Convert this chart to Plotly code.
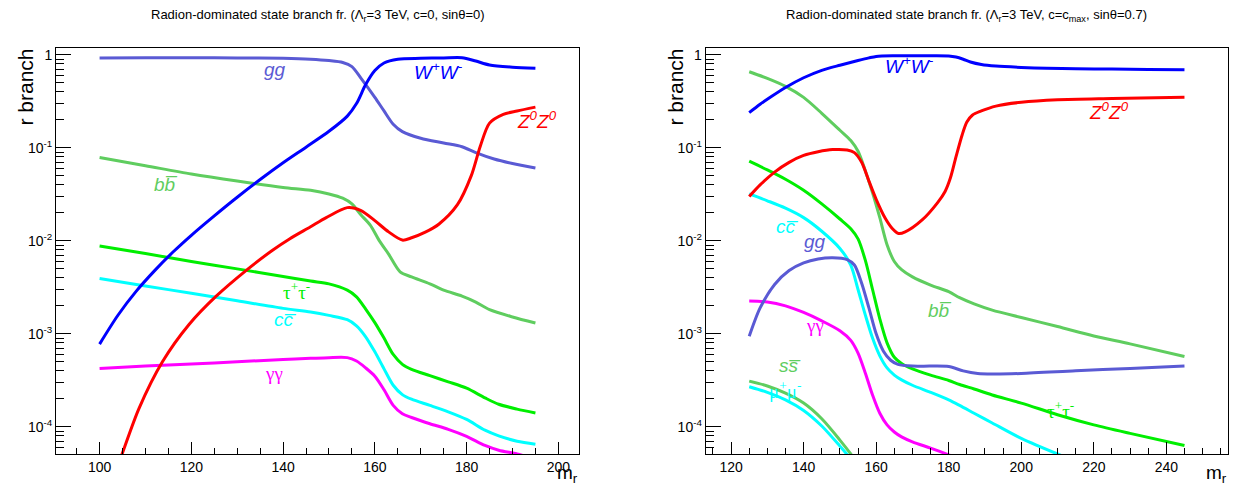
import math
import plotly.graph_objects as go

# ---------------- left panel: c=0, sin(theta)=0 ----------------
L_gg_m = [100, 110, 120, 130, 140, 146, 150, 153, 155, 157, 160, 162, 164, 166, 170, 175, 179, 182, 186, 190, 195]
L_gg = [0.93, 0.935, 0.935, 0.93, 0.92, 0.90, 0.87, 0.83, 0.75, 0.56, 0.35, 0.25, 0.18, 0.15, 0.127, 0.113, 0.103, 0.089, 0.076, 0.068, 0.061]

L_ww_m = [100, 104, 108, 112, 116, 120, 125, 130, 135, 140, 145, 150, 154, 156, 158, 160, 162, 165, 170, 175, 179, 182, 185, 190, 195]
L_ww = [7.76e-4, 1.585e-3, 2.88e-3, 4.79e-3, 7.59e-3, 0.0115, 0.0186, 0.0295, 0.0457, 0.0692, 0.102, 0.151, 0.22, 0.30, 0.48, 0.68, 0.82, 0.90, 0.92, 0.93, 0.935, 0.86, 0.78, 0.74, 0.72]

L_zz_m = [104, 105, 108.6, 113.7, 119.5, 125.3, 131.9, 137.7, 141.4, 145.9, 149.4, 154, 157, 160, 163, 166, 168, 171, 174, 178, 181, 183, 185, 188, 191, 195]
L_zz = [3.8e-5, 5.25e-5, 1.58e-4, 5.0e-4, 1.26e-3, 2.51e-3, 4.79e-3, 7.94e-3, 0.0105, 0.0141, 0.0178, 0.0228, 0.0212, 0.0165, 0.0125, 0.0102, 0.0108, 0.0124, 0.0152, 0.0245, 0.05, 0.105, 0.185, 0.23, 0.25, 0.275]

L_bb_m = [100, 110, 120, 130, 140, 146, 150, 153, 155, 157, 159, 161, 163, 165.5, 168, 172, 175, 179, 182, 185, 190, 195]
L_bb = [0.079, 0.0644, 0.0524, 0.044, 0.0376, 0.035, 0.032, 0.0288, 0.025, 0.019, 0.0148, 0.0100, 0.0072, 4.65e-3, 4.1e-3, 3.45e-3, 2.95e-3, 2.55e-3, 2.2e-3, 1.82e-3, 1.52e-3, 1.31e-3]

L_fm_m = [100, 110, 120, 130, 140, 146, 150, 154, 156, 158, 160, 162, 164, 166, 168, 172, 176, 180, 184, 187, 191, 195]
L_tautau = [8.8e-3, 7.3e-3, 6.0e-3, 5.0e-3, 4.15e-3, 3.7e-3, 3.45e-3, 2.95e-3, 2.5e-3, 1.85e-3, 1.32e-3, 9.0e-4, 6.0e-4, 4.7e-4, 4.15e-4, 3.55e-4, 3.05e-4, 2.6e-4, 2.05e-4, 1.75e-4, 1.55e-4, 1.41e-4]
L_cc = [3.95e-3, 3.28e-3, 2.73e-3, 2.27e-3, 1.88e-3, 1.72e-3, 1.58e-3, 1.42e-3, 1.22e-3, 9.3e-4, 6.4e-4, 4.2e-4, 2.8e-4, 2.22e-4, 1.98e-4, 1.7e-4, 1.45e-4, 1.2e-4, 9.2e-5, 8.0e-5, 7.0e-5, 6.5e-5]
L_gamgam = [4.24e-4, 4.5e-4, 4.75e-4, 5.0e-4, 5.3e-4, 5.45e-4, 5.55e-4, 5.55e-4, 5.1e-4, 4.3e-4, 3.5e-4, 2.5e-4, 1.7e-4, 1.38e-4, 1.26e-4, 1.08e-4, 9.4e-5, 7.9e-5, 6.3e-5, 5.6e-5, 5.1e-5, 4.5e-5]

# ---------------- right panel: c=c_max, sin(theta)=0.7 ----------------
R_ww_m = [125, 128, 131, 135, 140, 145, 150, 155, 158, 160, 165, 170, 175, 180, 182, 184, 186, 189, 193, 200, 207, 215, 225, 235, 245]
R_ww = [0.24, 0.295, 0.355, 0.447, 0.569, 0.684, 0.776, 0.871, 0.93, 0.965, 0.98, 0.98, 0.98, 0.975, 0.95, 0.90, 0.84, 0.79, 0.76, 0.735, 0.72, 0.71, 0.705, 0.70, 0.695]

R_zz_m = [125, 128, 132, 136, 140, 144, 148, 152, 154, 156, 158, 160, 162.5, 164.5, 166.2, 168, 172.6, 177, 179, 180.5, 182, 183.7, 185, 186.5, 189, 193, 200, 210, 225, 245]
R_zz = [0.030, 0.040, 0.055, 0.070, 0.083, 0.091, 0.096, 0.095, 0.089, 0.070, 0.044, 0.028, 0.0175, 0.0135, 0.012, 0.0125, 0.0167, 0.026, 0.034, 0.048, 0.08, 0.138, 0.19, 0.225, 0.25, 0.282, 0.31, 0.33, 0.34, 0.35]

R_fm_m = [125, 130, 135, 140, 145, 150, 153, 155, 157, 159, 161, 163, 165, 167, 170, 175, 180, 183, 187, 192, 200, 210, 220, 230, 245]
R_bb = [0.66, 0.56, 0.46, 0.35, 0.236, 0.155, 0.12, 0.092, 0.057, 0.033, 0.0178, 0.0091, 6.0e-3, 4.9e-3, 4.1e-3, 3.35e-3, 2.85e-3, 2.45e-3, 2.1e-3, 1.8e-3, 1.5e-3, 1.2e-3, 9.5e-4, 7.8e-4, 5.7e-4]
R_tautau = [0.072, 0.058, 0.046, 0.035, 0.025, 0.0172, 0.0135, 0.0105, 0.0062, 3.0e-3, 1.45e-3, 8.0e-4, 5.6e-4, 4.8e-4, 4.2e-4, 3.6e-4, 3.15e-4, 2.85e-4, 2.55e-4, 2.2e-4, 1.8e-4, 1.35e-4, 1.05e-4, 8.5e-5, 6.3e-5]
R_cc = [0.032, 0.027, 0.0225, 0.0178, 0.0127, 8.3e-3, 5.5e-3, 3.0e-3, 1.6e-3, 9.0e-4, 5.8e-4, 4.3e-4, 3.6e-4, 3.2e-4, 2.8e-4, 2.35e-4, 1.95e-4, 1.7e-4, 1.4e-4, 1.1e-4, 7.5e-5, 5.1e-5, 3.6e-5, 2.6e-5, 1.6e-5]

R_gg_m = [125, 128, 132, 136, 140, 144, 148, 152, 154, 156, 158, 160, 162, 164, 166, 170, 175, 180, 184, 188, 192, 200, 215, 230, 245]
R_gg = [9.4e-4, 1.9e-3, 3.4e-3, 4.8e-3, 5.8e-3, 6.4e-3, 6.6e-3, 6.3e-3, 5.5e-3, 3.5e-3, 1.9e-3, 1.0e-3, 6.5e-4, 5.2e-4, 4.7e-4, 4.5e-4, 4.5e-4, 4.45e-4, 4.0e-4, 3.75e-4, 3.7e-4, 3.75e-4, 4.0e-4, 4.25e-4, 4.5e-4]

R_ga_m = [125, 130, 135, 140, 145, 150, 153, 155, 157, 159, 161, 163, 165, 167, 170, 175, 180, 185]
R_gamgam = [2.25e-3, 2.2e-3, 2.0e-3, 1.7e-3, 1.38e-3, 1.08e-3, 8.5e-4, 6.2e-4, 3.8e-4, 2.2e-4, 1.4e-4, 1.05e-4, 8.8e-5, 7.8e-5, 6.9e-5, 5.9e-5, 5.0e-5, 4.2e-5]

R_light_m = [125, 130, 135, 140, 145, 150, 153, 156]
R_ss = [3.1e-4, 2.75e-4, 2.3e-4, 1.8e-4, 1.22e-4, 7.2e-5, 5.1e-5, 3.4e-5]
R_mumu = [2.7e-4, 2.35e-4, 1.95e-4, 1.5e-4, 1.02e-4, 6.2e-5, 4.5e-5, 3.0e-5]

# ---------------- styles ----------------
C_GG = "#5a5ad4"
C_WW = "#0000ff"
C_ZZ = "#ff0000"
C_BB = "#5fcd5f"
C_TT = "#00ee00"
C_CC = "#00ffff"
C_AA = "#ff00ff"

W, H = 1235, 490
SANS = "Liberation Sans, Arial, sans-serif"
SERIF = "Liberation Serif, Times New Roman, serif"

fig = go.Figure()


def curve(x, y, color, ax):
    fig.add_trace(go.Scatter(
        x=x, y=y, mode="lines", xaxis="x" + ax, yaxis="y" + ax,
        line=dict(color=color, width=3, shape="spline", smoothing=0.8),
        showlegend=False, hoverinfo="skip"))


# left
curve(L_gg_m, L_gg, C_GG, "")
curve(L_bb_m, L_bb, C_BB, "")
curve(L_fm_m, L_tautau, C_TT, "")
curve(L_fm_m, L_cc, C_CC, "")
curve(L_fm_m, L_gamgam, C_AA, "")
curve(L_zz_m, L_zz, C_ZZ, "")
curve(L_ww_m, L_ww, C_WW, "")

# right
curve(R_fm_m, R_bb, C_BB, "2")
curve(R_light_m, R_ss, C_BB, "2")
curve(R_light_m, R_mumu, C_CC, "2")
curve(R_fm_m, R_tautau, C_TT, "2")
curve(R_fm_m, R_cc, C_CC, "2")
curve(R_ga_m, R_gamgam, C_AA, "2")
curve(R_gg_m, R_gg, C_GG, "2")
curve(R_zz_m, R_zz, C_ZZ, "2")
curve(R_ww_m, R_ww, C_WW, "2")

# ---------------- axes ----------------
y_lo, y_hi = 5.1e-5, 1.18
decades = [1e-4, 1e-3, 1e-2, 1e-1, 1]
decade_text = ["10<sup>-4</sup>", "10<sup>-3</sup>", "10<sup>-2</sup>", "10<sup>-1</sup>", "1"]
minor_y = [k * 10.0 ** e for e in range(-5, 1) for k in range(2, 10)]
minor_y = [v for v in minor_y if y_lo < v < y_hi]

tickfont = dict(family=SANS, size=14, color="black")
ytop = 1 - 48.3 / H
ybot = 1 - 454 / H

common_x = dict(showline=True, linecolor="black", linewidth=1, mirror=True,
                ticks="inside", ticklen=12, tickwidth=1, tickcolor="black",
                showgrid=False, zeroline=False, tickfont=tickfont)
common_y = dict(type="log", range=[math.log10(y_lo), math.log10(y_hi)],
                showline=True, linecolor="black", linewidth=1, mirror=True,
                ticks="inside", ticklen=15, tickwidth=1, tickcolor="black",
                tickvals=decades, ticktext=decade_text,
                minor=dict(tickvals=minor_y, ticklen=8, ticks="inside", tickcolor="black"),
                showgrid=False, zeroline=False, tickfont=tickfont,
                domain=[ybot, ytop])

fig.update_layout(
    width=W, height=H, margin=dict(l=0, r=0, t=0, b=0),
    paper_bgcolor="white", plot_bgcolor="white",
    xaxis=dict(common_x, range=[90.5, 204.5], domain=[56 / W, 579 / W],
               tickvals=[100, 120, 140, 160, 180, 200],
               minor=dict(dtick=5, tick0=0, ticklen=6, ticks="inside", tickcolor="black")),
    yaxis=dict(common_y, anchor="x"),
    xaxis2=dict(common_x, range=[113, 257], domain=[705.7 / W, 1228 / W], anchor="y2",
                tickvals=[120, 140, 160, 180, 200, 220, 240],
                minor=dict(dtick=5, tick0=0, ticklen=6, ticks="inside", tickcolor="black")),
    yaxis2=dict(common_y, anchor="x2"),
)

ann = []


def label(text, m, logv, color, ax, font=SANS, size=19, italic=True):
    t = "<i>" + text + "</i>" if italic else text
    ann.append(dict(text=t, x=m, y=logv, xref="x" + ax, yref="y" + ax,
                    showarrow=False, font=dict(family=font, size=size, color=color)))


BB = "bb\u0305"
CC = "cc\u0305"
SS = "ss\u0305"

label("gg", 138.2, -0.151, C_GG, "")
label("W<sup>+</sup>W<sup>-</sup>", 173.8, -0.172, C_WW, "")
label("Z<sup>0</sup>Z<sup>0</sup>", 195.4, -0.70, C_ZZ, "")
label(BB, 114.4, -1.39, C_BB, "")
label("\u03c4<sup>+</sup>\u03c4<sup>-</sup>", 142.9, -2.54, C_TT, "", font=SERIF, italic=False)
label(CC, 140.4, -2.85, C_CC, "")
label("\u03b3\u03b3", 138.1, -3.43, C_AA, "", font=SERIF, italic=False)

label("W<sup>+</sup>W<sup>-</sup>", 169.1, -0.108, C_WW, "2")
label("Z<sup>0</sup>Z<sup>0</sup>", 224.3, -0.603, C_ZZ, "2")
label(CC, 135.4, -1.85, C_CC, "2")
label("gg", 143.2, -2.01, C_GG, "2")
label(BB, 177.7, -2.745, C_BB, "2")
label("\u03b3\u03b3", 143.2, -2.906, C_AA, "2", font=SERIF, italic=False)
label(SS, 136.3, -3.337, C_BB, "2")
label("\u03bc<sup>+</sup>\u03bc<sup>-</sup>", 134.9, -3.606, C_CC, "2", font=SERIF, italic=False)
label("\u03c4<sup>+</sup>\u03c4<sup>-</sup>", 210.8, -3.82, C_TT, "2", font=SERIF, italic=False)

# titles and axis titles
titlefont = dict(family=SANS, size=13, color="black")
ann.append(dict(text="Radion-dominated state branch fr. (\u039b<sub>r</sub>=3 TeV, c=0, sin\u03b8=0)",
                x=318 / W, y=1 - 16 / H, xref="paper", yref="paper", showarrow=False,
                font=titlefont, xanchor="center", yanchor="middle"))
ann.append(dict(text="Radion-dominated state branch fr. (\u039b<sub>r</sub>=3 TeV, c=c<sub>max</sub>, sin\u03b8=0.7)",
                x=966 / W, y=1 - 16 / H, xref="paper", yref="paper", showarrow=False,
                font=titlefont, xanchor="center", yanchor="middle"))

axfont = dict(family=SANS, size=21, color="black")
for xc in (25, 675):
    ann.append(dict(text="r branch", x=xc / W, y=1 - 47 / H, xref="paper", yref="paper",
                    showarrow=False, textangle=-90, font=axfont,
                    xanchor="center", yanchor="top"))
for xr in (580, 1229):
    ann.append(dict(text="m<sub>r</sub>", x=xr / W, y=1 - 488 / H, xref="paper", yref="paper",
                    showarrow=False, font=dict(family=SANS, size=19, color="black"),
                    xanchor="right", yanchor="bottom"))

fig.update_layout(annotations=ann)
fig.write_html("out.html")
